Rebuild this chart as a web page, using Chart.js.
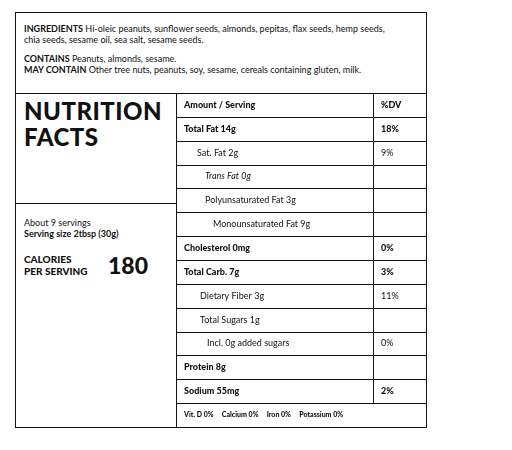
<!DOCTYPE html>
<html>
<head>
<script src="https://cdn.jsdelivr.net/npm/chart.js@4"></script>
<style>
  body { margin: 0; background: #fff; font-family: Lato, Arial, sans-serif; color: #111; }
  .box { position: absolute; left: 15px; top: 12px; width: 410px; height: 414px; border: 1px solid #111; }
  .top { position: absolute; left: 8px; top: 10px; width: 370px; font-size: 9px; line-height: 11px; }
  .top p { margin: 0 0 8px 0; }
  .hr { position: absolute; left: 0; width: 161px; border-top: 1px solid #111; }
  .nf { position: absolute; left: 8px; top: 85px; font-size: 24px; font-weight: 900; line-height: 26px; letter-spacing: 0.5px; }
  .serv { position: absolute; left: 8px; top: 204px; font-size: 9px; line-height: 11px; }
  .cal { position: absolute; left: 8px; top: 240px; font-size: 10px; font-weight: 900; line-height: 12px; }
  .calnum { position: absolute; left: 92px; top: 238px; font-size: 23px; font-weight: 900; }
  #wrap { position: absolute; left: 160px; top: 80px; width: 250px; height: 334px; }
</style>
</head>
<body>
<div class="box">
  <div class="top">
    <p><b>INGREDIENTS</b> Hi-oleic peanuts, sunflower seeds, almonds, pepitas, flax seeds, hemp seeds, chia seeds, sesame oil, sea salt, sesame seeds.</p>
    <p><b>CONTAINS</b> Peanuts, almonds, sesame.<br><b>MAY CONTAIN</b> Other tree nuts, peanuts, soy, sesame, cereals containing gluten, milk.</p>
  </div>
  <div class="hr" style="top:80px;width:410px"></div>
  <div class="nf">NUTRITION<br>FACTS</div>
  <div class="hr" style="top:190px"></div>
  <div class="serv">About 9 servings<br><b>Serving size 2tbsp (30g)</b></div>
  <div class="cal">CALORIES<br>PER SERVING</div>
  <div class="calnum">180</div>
  <div id="wrap"><canvas id="c"></canvas></div>
</div>
<script>
const rows = ["Amount / Serving", "Total Fat 14g", "Sat. Fat 2g", "Trans Fat 0g", "Polyunsaturated Fat 3g",
  "Monounsaturated Fat 9g", "Cholesterol 0mg", "Total Carb. 7g", "Dietary Fiber 3g", "Total Sugars 1g",
  "Incl. 0g added sugars", "Protein 8g", "Sodium 55mg", "Vit. D 0%     Calcium 0%     Iron 0%     Potassium 0%"];
const dv = ["%DV", "18%", "9%", "", "", "", "0%", "3%", "11%", "", "0%", "", "2%", ""];
const indent = [0, 0, 13, 21, 21, 29, 0, 0, 16, 16, 23, 0, 0, 0];
const bold = [1, 1, 0, 0, 0, 0, 1, 1, 0, 0, 0, 1, 1, 1];
const italicIdx = 3;

const tablePlugin = {
  id: "table",
  afterDraw(chart) {
    const ctx = chart.ctx, y = chart.scales.y, a = chart.chartArea;
    const half = (y.getPixelForValue(1) - y.getPixelForValue(0)) / 2;
    const colX = a.left + 197;
    ctx.save();
    ctx.strokeStyle = "#111"; ctx.lineWidth = 1;
    ctx.beginPath();
    ctx.moveTo(a.left + 0.5, a.top); ctx.lineTo(a.left + 0.5, a.bottom);
    ctx.moveTo(colX + 0.5, a.top); ctx.lineTo(colX + 0.5, y.getPixelForValue(rows.length - 1) - half);
    for (let i = 1; i < rows.length; i++) {
      const p = Math.round(y.getPixelForValue(i) - half) + 0.5;
      ctx.moveTo(a.left, p); ctx.lineTo(a.right, p);
    }
    ctx.stroke();
    ctx.fillStyle = "#111"; ctx.textBaseline = "middle";
    rows.forEach((r, i) => {
      const py = y.getPixelForValue(i);
      const last = i === rows.length - 1;
      const size = last ? 7 : 9;
      ctx.font = (i === italicIdx ? "italic " : "") + (bold[i] ? "900 " : "") + size + "px Lato";
      ctx.fillText(r, a.left + 8 + indent[i], py);
      if (dv[i]) {
        ctx.font = (bold[i] ? "900 " : "") + "9px Lato";
        ctx.fillText(dv[i], colX + 8, py);
      }
    });
    ctx.restore();
  }
};

new Chart(document.getElementById("c"), {
  type: "bar",
  data: { labels: rows, datasets: [{ data: rows.map(() => 0) }] },
  options: {
    indexAxis: "y", responsive: true, maintainAspectRatio: false, animation: false,
    layout: { padding: 0 },
    plugins: { legend: { display: false }, tooltip: { enabled: false } },
    scales: {
      y: { display: false, offset: true },
      x: { display: false, min: 0, max: 1 }
    }
  },
  plugins: [tablePlugin]
});
</script>
</body>
</html>
